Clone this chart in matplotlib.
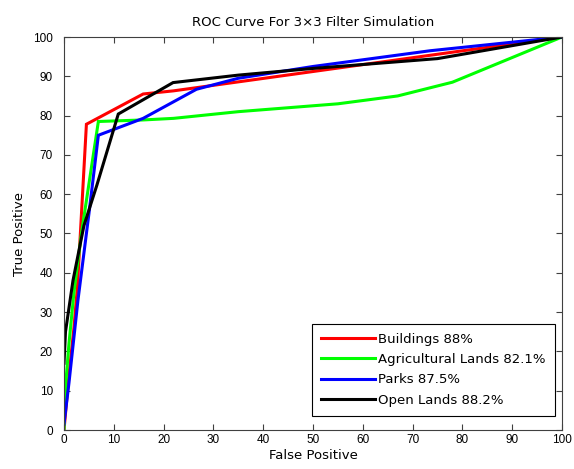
import matplotlib
matplotlib.use("Agg")
import matplotlib.pyplot as plt

plt.rcParams['font.family'] = ['DejaVu Sans']

# ROC points (false positive %, true positive %)
buildings_fp = [0, 1, 2, 2.7, 4.5, 15.9, 22, 100]
buildings_tp = [0, 14, 26, 36.5, 77.8, 85.5, 86.3, 100]

agri_fp = [0, 0.3, 1, 2, 3.5, 6.9, 16, 22, 35, 55, 67, 78, 100]
agri_tp = [0, 11, 22, 35, 50, 78.5, 78.9, 79.3, 81, 83, 85, 88.5, 100]

parks_fp = [0, 1, 2.8, 5, 6.9, 15.9, 26.6, 35, 50, 73.5, 100]
parks_tp = [1.5, 12, 33, 55, 75, 79.3, 86.7, 89.5, 92.5, 96.5, 100]

open_fp = [0, 0.3, 1.8, 4, 6.6, 10.9, 21.9, 35, 50, 60, 75, 100]
open_tp = [17, 25, 38, 52, 62.3, 80.4, 88.4, 90.3, 92, 93, 94.5, 100]

labels = ['Buildings 88%', 'Agricultural Lands 82.1%', 'Parks 87.5%', 'Open Lands 88.2%']
colors = ['#ff0000', '#00ff00', '#0000ff', '#000000']
xticks = list(range(0, 101, 10))
yticks = list(range(0, 101, 10))

fig = plt.figure(figsize=(5.74, 4.69), dpi=100)
ax = fig.add_axes([64 / 574, 39 / 469, 498 / 574, 393 / 469])

series = [(buildings_fp, buildings_tp), (agri_fp, agri_tp),
          (parks_fp, parks_tp), (open_fp, open_tp)]
for (fp, tp), lab, col in zip(series, labels, colors):
    ax.plot(fp, tp, color=col, linewidth=2.2, label=lab, solid_joinstyle='miter')

ax.set_xlim(0, 100)
ax.set_ylim(0, 100)
ax.set_xticks(xticks)
ax.set_yticks(yticks)
ax.tick_params(direction='in', top=True, right=True, length=4, color='#404040')
ax.tick_params(axis='x', pad=3)
ax.tick_params(axis='y', pad=8)
for lbl in ax.get_xticklabels() + ax.get_yticklabels():
    lbl.set_fontfamily('Liberation Sans')
    lbl.set_fontsize(8.5)
for sp in ax.spines.values():
    sp.set_color('#404040')
    sp.set_linewidth(0.8)

ax.set_title('ROC Curve For 3\u00d73 Filter Simulation', fontsize=9.5, pad=8)
ax.set_xlabel('False Positive', fontsize=9.5, labelpad=2)
ax.set_ylabel('True Positive', fontsize=9.5, labelpad=5)

leg = ax.legend(loc='lower right', bbox_to_anchor=(0.986, 0.036), borderaxespad=0,
                prop={'size': 9.5}, handlelength=4.1, handletextpad=0.25,
                labelspacing=0.55, fancybox=False, edgecolor='black',
                framealpha=1, borderpad=0.7)
leg.get_frame().set_linewidth(0.8)

fig.savefig('out.png', dpi=100)
